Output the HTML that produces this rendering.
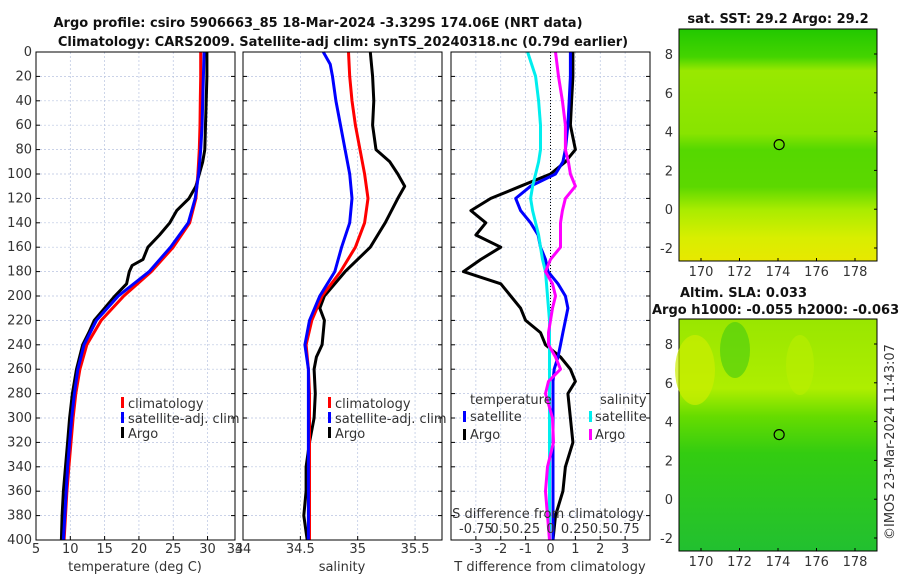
<!DOCTYPE html>
<html><head><meta charset="utf-8"><style>
body{margin:0;background:#fff;}
svg{font-family:"DejaVu Sans","Liberation Sans",sans-serif;}
.t{font-size:13px;fill:#333;}
.b{font-weight:bold;font-size:13px;fill:#111;}
</style></head><body>
<svg id="c" width="900" height="580" viewBox="0 0 900 580" xmlns="http://www.w3.org/2000/svg">
<defs>
<linearGradient id="g1" x1="0" y1="0" x2="0" y2="1">
<stop offset="0" stop-color="#22c800"/><stop offset="0.12" stop-color="#44d400"/><stop offset="0.18" stop-color="#99e800"/>
<stop offset="0.45" stop-color="#88e400"/><stop offset="0.52" stop-color="#55d800"/><stop offset="0.68" stop-color="#5cd800"/>
<stop offset="0.78" stop-color="#aaec00"/><stop offset="0.9" stop-color="#d8ee00"/><stop offset="1" stop-color="#e8e800"/>
</linearGradient>
<linearGradient id="g2" x1="0" y1="0" x2="0" y2="1">
<stop offset="0" stop-color="#99e600"/><stop offset="0.3" stop-color="#aeee00"/><stop offset="0.42" stop-color="#66dc00"/>
<stop offset="0.58" stop-color="#33cc11"/><stop offset="1" stop-color="#22c030"/>
</linearGradient>
</defs>
<text class="b" x="318" y="27" text-anchor="middle">Argo profile: csiro 5906663_85 18-Mar-2024 -3.329S 174.06E (NRT data)</text>
<text class="b" x="343" y="46" text-anchor="middle">Climatology: CARS2009. Satellite-adj clim: synTS_20240318.nc (0.79d earlier)</text>
<g id="plots"></g>
<text class="t" x="135" y="571" text-anchor="middle">temperature (deg C)</text>
<text class="t" x="342" y="571" text-anchor="middle">salinity</text>
<text class="t" x="550" y="571" text-anchor="middle">T difference from climatology</text>
<text class="t" x="548" y="518" text-anchor="middle">S difference from climatology</text>
<g>
<rect x="121" y="397" width="3" height="11" fill="#f00"/><text class="t" x="128" y="408">climatology</text>
<rect x="121" y="412" width="3" height="11" fill="#00f"/><text class="t" x="128" y="423">satellite-adj. clim</text>
<rect x="121" y="427" width="3" height="11" fill="#000"/><text class="t" x="128" y="438">Argo</text>
</g>
<g>
<rect x="328" y="397" width="3" height="11" fill="#f00"/><text class="t" x="335" y="408">climatology</text>
<rect x="328" y="412" width="3" height="11" fill="#00f"/><text class="t" x="335" y="423">satellite-adj. clim</text>
<rect x="328" y="427" width="3" height="11" fill="#000"/><text class="t" x="335" y="438">Argo</text>
</g>
<g>
<text class="t" x="470" y="404">temperature</text>
<rect x="463" y="411" width="3" height="11" fill="#00f"/><text class="t" x="470" y="421">satellite</text>
<rect x="463" y="429" width="3" height="11" fill="#000"/><text class="t" x="470" y="439">Argo</text>
<text class="t" x="600" y="404">salinity</text>
<rect x="589" y="411" width="3" height="11" fill="#0ee"/><text class="t" x="595" y="421">satellite</text>
<rect x="589" y="429" width="3" height="11" fill="#f0f"/><text class="t" x="595" y="439">Argo</text>
</g>
<text class="b" x="778" y="23" text-anchor="middle">sat. SST: 29.2 Argo: 29.2</text>
<text class="b" x="680" y="297">Altim. SLA: 0.033</text>
<text class="b" x="652" y="314">Argo h1000: -0.055 h2000: -0.063</text>
<text class="t" transform="translate(894,540) rotate(-90)">©IMOS 23-Mar-2024 11:43:07</text>
<g id="maps"></g>
</svg>
<script>
// ---- data ----
var depthTicks=[0,20,40,60,80,100,120,140,160,180,200,220,240,260,280,300,320,340,360,380,400];
var climDepth=[0,20,40,60,80,100,120,140,160,180,200,220,240,260,280,300,320,340,360,380,400];
var climT=[29.0,29.0,28.95,28.9,28.8,28.6,28.3,27.4,25.0,21.8,17.8,14.5,12.4,11.4,10.8,10.4,10.1,9.8,9.5,9.3,9.1];
var satT=[29.5,29.4,29.3,29.2,29.0,28.7,28.2,27.2,24.6,21.5,17.0,13.8,12.0,11.1,10.6,10.2,9.9,9.6,9.4,9.2,9.0];
var argoDepth=[0,20,40,60,80,90,100,110,120,130,140,150,160,170,175,180,190,200,210,220,230,240,260,280,300,320,340,360,380,400];
var argoT=[29.9,29.9,29.8,29.7,29.6,29.3,28.8,28.3,27.3,25.5,24.5,23.0,21.3,20.6,19.0,18.6,18.2,16.5,15.0,13.5,12.7,11.8,10.9,10.3,9.9,9.6,9.3,9.0,8.8,8.7];
var climS=[34.92,34.93,34.95,34.98,35.02,35.06,35.09,35.06,34.98,34.85,34.69,34.60,34.55,34.57,34.58,34.58,34.58,34.58,34.58,34.58,34.58];
var satDepthS=[0,10,20,40,60,80,100,120,140,160,180,200,220,240,260,280,300,320,340,360,380,400];
var satS=[34.70,34.76,34.78,34.81,34.85,34.89,34.93,34.95,34.93,34.86,34.80,34.67,34.58,34.54,34.57,34.57,34.57,34.57,34.57,34.57,34.57,34.57];
var argoDepthS=[0,20,40,60,80,90,100,110,120,140,160,180,190,200,210,220,240,250,260,280,300,320,340,360,380,400];
var argoS=[35.11,35.13,35.14,35.13,35.16,35.28,35.35,35.41,35.35,35.24,35.11,34.89,34.80,34.71,34.67,34.71,34.69,34.64,34.62,34.63,34.62,34.58,34.55,34.55,34.53,34.56];
var diffDepth=[0,20,40,60,80,90,100,110,120,130,140,150,160,170,180,190,200,210,220,230,240,250,260,270,280,300,320,340,360,380,400];
var satTdiff=[0.8,0.8,0.75,0.7,0.6,0.5,0.2,-0.8,-1.4,-1.2,-0.8,-0.5,-0.4,-0.2,-0.1,0.3,0.6,0.7,0.6,0.5,0.4,0.3,0.15,0.1,0.1,0.1,0.1,0.1,0.1,0.1,0.1];
var argoTdiff=[0.9,0.9,0.85,0.8,1.0,0.6,0.0,-1.2,-2.4,-3.2,-2.6,-3.0,-2.0,-2.8,-3.5,-2.0,-1.6,-1.2,-1.0,-0.4,-0.2,0.4,0.8,1.0,0.7,0.8,0.9,0.6,0.5,0.2,0.1];
var satSdiff=[-0.23,-0.15,-0.12,-0.1,-0.1,-0.12,-0.15,-0.18,-0.2,-0.18,-0.15,-0.12,-0.1,-0.08,-0.05,-0.04,-0.03,-0.02,-0.01,-0.01,-0.01,-0.01,-0.01,-0.01,-0.01,-0.01,-0.01,-0.01,-0.01,-0.01,-0.01];
var argoSdiff=[0.05,0.08,0.12,0.15,0.15,0.18,0.2,0.25,0.15,0.12,0.1,0.1,0.1,0.0,-0.05,0.02,0.05,0.02,0.0,-0.02,-0.02,0.05,0.1,-0.02,-0.05,0.02,0.03,-0.03,-0.05,-0.03,-0.01];
var tTicks=[5,10,15,20,25,30,34];
var sTicks=[34,34.5,35,35.5];
var dTicks=[-3,-2,-1,0,1,2,3];
var sdTicks=[-0.75,-0.5,-0.25,0,0.25,0.5,0.75];
var sdLabels=["-0.75","0.5","0.25","0","0.25","0.5","0.75"];
var lonTicks=[170,172,174,176,178];
var latTicks=[-2,0,2,4,6,8];
var argoLon=174.06, argoLat=3.33;

var NS="http://www.w3.org/2000/svg";
var plots=document.getElementById('plots');
function el(tag,attrs,parent){var e=document.createElementNS(NS,tag);for(var k in attrs)e.setAttribute(k,attrs[k]);(parent||plots).appendChild(e);return e;}
var Y0=52,Y1=540;
function yD(d){return Y0+(d/400)*(Y1-Y0);}
var panels=[
 {x0:36,x1:235,min:5,max:34,ticks:tTicks,name:'temperature-panel'},
 {x0:243,x1:442,min:34,max:35.735,ticks:sTicks,name:'salinity-panel'},
 {x0:451,x1:650,min:-4,max:4,ticks:dTicks,name:'difference-panel'}];
function xs(p,v){return p.x0+(v-p.min)/(p.max-p.min)*(p.x1-p.x0);}
function sdx(v){var p=panels[2];return xs(p,v*4);}
panels.forEach(function(p,i){
  var g=el('g',{});
  
  
  depthTicks.forEach(function(d){
    el('line',{x1:p.x0,x2:p.x1,y1:yD(d),y2:yD(d),stroke:'#b8c4e0','stroke-width':0.7,'stroke-dasharray':'2,2'},g);
    el('line',{x1:p.x0,x2:p.x0+4,y1:yD(d),y2:yD(d),stroke:'#000'},g);
    el('line',{x1:p.x1,x2:p.x1-4,y1:yD(d),y2:yD(d),stroke:'#000'},g);
    if(i==0){var t=el('text',{x:p.x0-4,y:yD(d)+4,'text-anchor':'end','class':'t'},g);t.textContent=d;
      
      }
  });
  p.ticks.forEach(function(v){
    var x=xs(p,v);
    el('line',{x1:x,x2:x,y1:Y0,y2:Y1,stroke:'#b8c4e0','stroke-width':0.7,'stroke-dasharray':'2,2'},g);
    el('line',{x1:x,x2:x,y1:Y1,y2:Y1-4,stroke:'#000'},g);
    var t=el('text',{x:x,y:Y1+13,'text-anchor':'middle','class':'t'},g);t.textContent=v;
    
    
  });
  p.g=g;
});
el('line',{x1:xs(panels[2],0),x2:xs(panels[2],0),y1:Y0,y2:Y1,stroke:'#000','stroke-width':1,'stroke-dasharray':'1,2'});
function line(xf,vals,depths,color,name){
  var pts=vals.map(function(v,i){return xf(v).toFixed(1)+','+yD(depths[i]).toFixed(1);}).join(' ');
  var pl=el('polyline',{points:pts,fill:'none',stroke:color,'stroke-width':3,'stroke-linejoin':'round'});
  
  
}
var P0=function(v){return xs(panels[0],v);},P1=function(v){return xs(panels[1],v);},P2=function(v){return xs(panels[2],v);};
line(P0,argoT,argoDepth,'#000','argo-temperature-line');
line(P0,climT,climDepth,'#f00','clim-temperature-line');
line(P0,satT,climDepth,'#00f','sat-temperature-line');
line(P1,argoS,argoDepthS,'#000','argo-salinity-line');
line(P1,climS,climDepth,'#f00','clim-salinity-line');
line(P1,satS,satDepthS,'#00f','sat-salinity-line');
line(P2,argoTdiff,diffDepth,'#000','argo-t-diff-line');
line(P2,satTdiff,diffDepth,'#00f','sat-t-diff-line');
line(sdx,satSdiff,diffDepth,'#0ee','sat-s-diff-line');
line(sdx,argoSdiff,diffDepth,'#f0f','argo-s-diff-line');
sdTicks.forEach(function(v,i){
  var t=el('text',{x:sdx(v),y:533,'text-anchor':'middle','class':'t'});t.textContent=sdLabels[i];
  
  
});
panels.forEach(function(p){el('rect',{x:p.x0,y:Y0,width:p.x1-p.x0,height:Y1-Y0,fill:'none',stroke:'#000'});});

var maps=document.getElementById('maps');
[{y0:29,y1:261,lat8:54,grad:'g1',name:'sst-map'},{y0:319,y1:551,lat8:344,grad:'g2',name:'sla-map'}].forEach(function(m,mi){
  var g=el('g',{},maps);
  
  
  var x0=679,x1=877;
  function lx(l){return 701+(l-170)*19.25;}
  function ly(l){return m.lat8+(8-l)*19.4;}
  el('rect',{x:x0,y:m.y0,width:x1-x0,height:m.y1-m.y0,fill:'url(#'+m.grad+')',stroke:'#000'},g);
  if(mi==1){
    el('ellipse',{cx:695,cy:370,rx:20,ry:35,fill:'#ccee00',opacity:0.7},g);
    el('ellipse',{cx:800,cy:365,rx:14,ry:30,fill:'#bbee00',opacity:0.6},g);
    el('ellipse',{cx:735,cy:350,rx:15,ry:28,fill:'#44cc11',opacity:0.6},g);
  }
  lonTicks.forEach(function(v){
    el('line',{x1:lx(v),x2:lx(v),y1:m.y1,y2:m.y1-3,stroke:'#000'},g);
    var t=el('text',{x:lx(v),y:m.y1+15,'text-anchor':'middle','class':'t'},g);t.textContent=v;
    
    
  });
  latTicks.forEach(function(v){
    el('line',{x1:x1,x2:x1-3,y1:ly(v),y2:ly(v),stroke:'#000'},g);
    var t=el('text',{x:x0-6,y:ly(v)+5,'text-anchor':'end','class':'t'},g);t.textContent=v;
    
    
  });
  var c=el('circle',{cx:lx(argoLon),cy:ly(argoLat),r:5,fill:'none',stroke:'#000','stroke-width':1.2},g);
  
  
});
</script>
</body></html>
